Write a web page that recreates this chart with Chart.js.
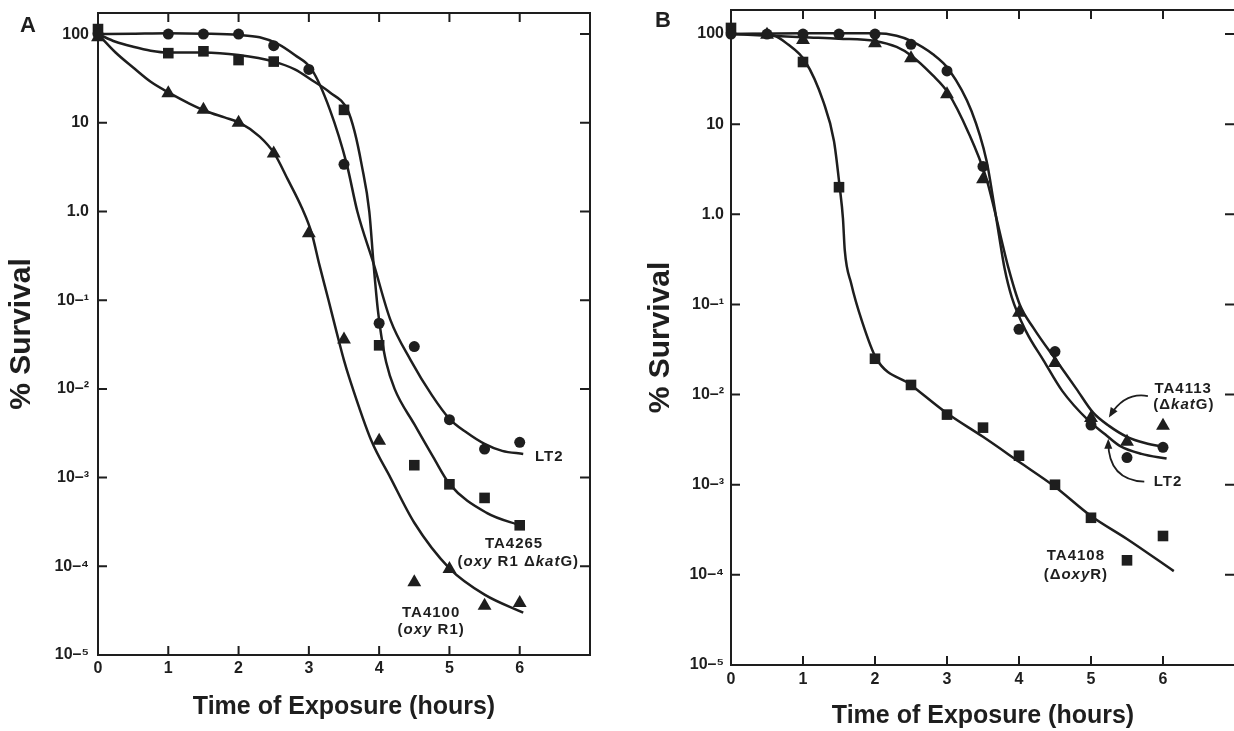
<!DOCTYPE html>
<html>
<head>
<meta charset="utf-8">
<script src="https://cdn.jsdelivr.net/npm/chart.js@4.4.1/dist/chart.umd.min.js"></script>
<style>
  html, body { margin: 0; padding: 0; background: #fff; overflow: hidden; }
  #wrap { position: relative; width: 1234px; height: 731px; overflow: hidden; }
  .panel { position: absolute; top: 0; }
  .letter { position: absolute; font: bold 22px 'Liberation Sans', Arial, sans-serif; color: #1e1e1e; line-height: 22px; }
</style>
</head>
<body>
<div id="wrap">
  <canvas id="chartA" class="panel" width="617" height="731" style="left:0"></canvas>
  <canvas id="chartB" class="panel" width="620" height="731" style="left:617px"></canvas>
  <div class="letter" style="left:20px;top:14px">A</div>
  <div class="letter" style="left:655px;top:9px">B</div>
</div>
<script>
const ink = "#1e1e1e";
const family = "'Liberation Sans', Arial, Helvetica, sans-serif";

// axis ticks
const xTickLabels = ["0", "1", "2", "3", "4", "5", "6", ""];
const yTickValues = [1e-5, 1e-4, 1e-3, 1e-2, 1e-1, 1, 10, 100];
const yTickLabels = ["10–⁵", "10–⁴", "10–³", "10–²", "10–¹", "1.0", "10", "100"];

// ---- panel A : measured points (hours, % survival)
const lt2A_t = [0, 1, 1.5, 2, 2.5, 3, 3.5, 4, 4.5, 5, 5.5, 6];
const lt2A_v = [100, 100, 100, 100, 74, 40, 3.4, 0.055, 0.03, 0.0045, 0.0021, 0.0025];
const ta4265_t = [0, 1, 1.5, 2, 2.5, 3.5, 4, 4.5, 5, 5.5, 6];
const ta4265_v = [114, 61, 64, 51, 49, 14, 0.031, 0.00138, 0.00084, 0.00059, 0.00029];
const ta4100_t = [0, 1, 1.5, 2, 2.5, 3, 3.5, 4, 4.5, 5, 5.5, 6];
const ta4100_v = [92, 21.6, 14, 10, 4.5, 0.57, 0.036, 0.0026, 0.000066, 0.000093, 0.000036, 0.0000385];

// panel A : hand-drawn fitted curves
const lt2A_fit_t = [0, 0.5, 1, 1.5, 2, 2.3, 2.55, 2.8, 3.04, 3.3, 3.54, 3.69, 3.92, 4.16, 4.45, 4.75, 5, 5.25, 5.5, 5.75, 6.05];
const lt2A_fit_v = [100, 101, 102, 101, 98, 92, 78, 58, 40, 14, 3.4, 1.0, 0.26, 0.06, 0.021, 0.0085, 0.0046, 0.0032, 0.0024, 0.002, 0.00185];
const ta4265_fit_t = [0, 0.25, 0.5, 0.75, 1, 1.5, 2, 2.5, 2.8, 3.05, 3.3, 3.55, 3.65, 3.75, 3.86, 3.92, 3.98, 4.03, 4.1, 4.22, 4.5, 4.77, 5, 5.53, 6.03];
const ta4265_fit_v = [100, 82, 72, 65, 62, 62, 58, 49, 40, 30, 22, 14, 8, 3.4, 1.0, 0.26, 0.08, 0.04, 0.02, 0.01, 0.004, 0.0017, 0.00085, 0.0004, 0.000285];
const ta4100_fit_t = [0, 0.25, 0.5, 0.75, 1.02, 1.3, 1.54, 1.8, 2.02, 2.3, 2.51, 2.7, 2.9, 3.04, 3.15, 3.28, 3.4, 3.5, 3.58, 3.89, 4.16, 4.5, 5, 5.5, 6.05];
const ta4100_fit_v = [100, 62, 42, 29, 21.6, 16.5, 13.5, 11.5, 10, 7, 4.5, 2.3, 1.1, 0.57, 0.25, 0.1, 0.042, 0.021, 0.013, 0.0026, 0.001, 0.00031, 0.000095, 0.000048, 0.00003];

// ---- panel B : measured points
const lt2B_t = [0, 0.5, 1, 1.5, 2, 2.5, 3, 3.5, 4, 4.5, 5, 5.5, 6];
const lt2B_v = [100, 100, 100, 100, 100, 77, 39, 3.4, 0.053, 0.03, 0.0046, 0.002, 0.0026];
const ta4113_t = [0.5, 1, 2, 2.5, 3, 3.5, 4, 4.5, 5, 5.5, 6];
const ta4113_v = [98, 86, 79, 54, 21.5, 2.45, 0.081, 0.0224, 0.0055, 0.003, 0.0045];
const ta4108_t = [0, 1, 1.5, 2, 2.5, 3, 3.5, 4, 4.5, 5, 5.5, 6];
const ta4108_v = [117, 49, 2.0, 0.025, 0.0128, 0.006, 0.0043, 0.0021, 0.001, 0.00043, 0.000145, 0.00027];

// panel B : fitted curves
const lt2B_fit_t = [0, 1, 2, 2.3, 2.5, 2.8, 3.03, 3.34, 3.55, 3.64, 3.72, 3.8, 3.9, 4.1, 4.34, 4.6, 4.96, 5.2, 5.4, 5.7, 6.05];
const lt2B_fit_v = [100, 102, 102, 96, 84, 60, 40, 14, 3.9, 1.5, 0.6, 0.25, 0.12, 0.05, 0.024, 0.011, 0.0052, 0.0036, 0.0027, 0.0022, 0.00195];
const ta4113_fit_t = [0, 0.5, 1, 1.5, 2, 2.3, 2.5, 2.8, 3.02, 3.3, 3.54, 3.65, 3.75, 3.85, 4.01, 4.2, 4.55, 4.8, 5.03, 5.25, 5.5, 5.75, 6.05];
const ta4113_fit_v = [100, 96, 92, 89, 84, 72, 58, 35, 22, 8, 2.6, 1.2, 0.55, 0.26, 0.1, 0.055, 0.022, 0.0115, 0.0063, 0.0045, 0.0034, 0.0029, 0.0026];
const ta4108_fit_t = [0, 0.3, 0.58, 0.79, 1.03, 1.28, 1.43, 1.51, 1.555, 1.58, 1.67, 1.82, 2.02, 2.5, 3, 3.5, 4, 4.5, 5, 5.5, 6.15];
const ta4108_fit_v = [100, 100, 97, 77, 50, 18, 6.5, 2.0, 0.9, 0.4, 0.17, 0.065, 0.025, 0.0128, 0.0062, 0.0034, 0.0018, 0.00095, 0.00045, 0.00025, 0.00011];

// strain labels, placed in data coordinates [hours, % survival]
const notesA = [
  { t: 6.42, v: 1.7e-3, parts: [["LT2", false]] },
  { t: 5.92, v: 1.79e-4, parts: [["TA4265", false]] },
  { t: 5.98, v: 1.13e-4, parts: [["(", false], ["oxy", true], [" R1 Δ", false], ["kat", true], ["G)", false]] },
  { t: 4.74, v: 2.98e-5, parts: [["TA4100", false]] },
  { t: 4.74, v: 1.91e-5, parts: [["(", false], ["oxy", true], [" R1)", false]] }
];
const notesB = [
  { t: 6.28, v: 1.17e-2, parts: [["TA4113", false]] },
  { t: 6.29, v: 7.65e-3, parts: [["(Δ", false], ["kat", true], ["G)", false]] },
  { t: 6.07, v: 1.08e-3, parts: [["LT2", false]] },
  { t: 4.79, v: 1.62e-4, parts: [["TA4108", false]] },
  { t: 4.79, v: 9.95e-5, parts: [["(Δ", false], ["oxy", true], ["R)", false]] }
];
// curved pointer arrows: start, control, end
const arrowsB = [
  [[5.79, 9.64e-3], [5.47, 1.07e-2], [5.27, 5.93e-3]],
  [[5.74, 1.08e-3], [5.24, 1.13e-3], [5.24, 3.0e-3]]
];

function pts(xs, ys) {
  return xs.map(function (t, i) { return { x: t, y: ys[i] }; });
}

function markers(label, xs, ys, style, radius) {
  return {
    label: label,
    data: pts(xs, ys),
    pointStyle: style,
    pointRadius: radius,
    pointHoverRadius: radius,
    backgroundColor: ink,
    borderColor: ink,
    borderWidth: 0,
    showLine: false,
    clip: false
  };
}

function fitLine(label, xs, ys) {
  return {
    label: label,
    data: pts(xs, ys),
    showLine: true,
    pointRadius: 0,
    pointHoverRadius: 0,
    borderColor: ink,
    borderWidth: 2.5,
    cubicInterpolationMode: "monotone",
    clip: false
  };
}

// box round the plot with inward tick marks
const frameTicks = {
  id: "frameTicks",
  beforeDatasetsDraw: function (chart) {
    const ctx = chart.ctx;
    const a = chart.chartArea;
    const x = chart.scales.x;
    const y = chart.scales.y;
    ctx.save();
    ctx.strokeStyle = ink;
    ctx.lineWidth = 2;
    ctx.strokeRect(a.left, a.top, a.right - a.left, a.bottom - a.top);
    ctx.beginPath();
    x.ticks.forEach(function (t) {
      if (t.value <= x.min || t.value >= x.max) return;
      const px = x.getPixelForValue(t.value);
      ctx.moveTo(px, a.bottom); ctx.lineTo(px, a.bottom - 9);
      ctx.moveTo(px, a.top); ctx.lineTo(px, a.top + 9);
    });
    y.ticks.forEach(function (t) {
      const py = y.getPixelForValue(t.value);
      if (py >= a.bottom - 1) return;
      ctx.moveTo(a.left, py); ctx.lineTo(a.left + 9, py);
      ctx.moveTo(a.right, py); ctx.lineTo(a.right - 10, py);
    });
    ctx.stroke();
    ctx.restore();
  }
};

function notesPlugin(notes, arrows) {
  return {
    id: "notes",
    afterDatasetsDraw: function (chart) {
      const ctx = chart.ctx;
      const x = chart.scales.x;
      const y = chart.scales.y;
      ctx.save();
      ctx.fillStyle = ink;
      ctx.strokeStyle = ink;
      ctx.textBaseline = "middle";
      ctx.textAlign = "left";
      ctx.letterSpacing = "1px";
      notes.forEach(function (n) {
        let total = 0;
        n.parts.forEach(function (p) {
          ctx.font = (p[1] ? "italic " : "") + "bold 15px " + family;
          total += ctx.measureText(p[0]).width;
        });
        let cx = x.getPixelForValue(n.t) - total / 2;
        const cy = y.getPixelForValue(n.v);
        n.parts.forEach(function (p) {
          ctx.font = (p[1] ? "italic " : "") + "bold 15px " + family;
          ctx.fillText(p[0], cx, cy);
          cx += ctx.measureText(p[0]).width;
        });
      });
      ctx.lineWidth = 1.8;
      arrows.forEach(function (ar) {
        const p0 = [x.getPixelForValue(ar[0][0]), y.getPixelForValue(ar[0][1])];
        const c = [x.getPixelForValue(ar[1][0]), y.getPixelForValue(ar[1][1])];
        const p1 = [x.getPixelForValue(ar[2][0]), y.getPixelForValue(ar[2][1])];
        ctx.beginPath();
        ctx.moveTo(p0[0], p0[1]);
        ctx.quadraticCurveTo(c[0], c[1], p1[0], p1[1]);
        ctx.stroke();
        const ang = Math.atan2(p1[1] - c[1], p1[0] - c[0]);
        ctx.beginPath();
        ctx.moveTo(p1[0] + Math.cos(ang) * 3, p1[1] + Math.sin(ang) * 3);
        ctx.lineTo(p1[0] - Math.cos(ang) * 7 - Math.sin(ang) * 4, p1[1] - Math.sin(ang) * 7 + Math.cos(ang) * 4);
        ctx.lineTo(p1[0] - Math.cos(ang) * 7 + Math.sin(ang) * 4, p1[1] - Math.sin(ang) * 7 - Math.cos(ang) * 4);
        ctx.closePath();
        ctx.fill();
      });
      ctx.restore();
    }
  };
}

function makeChart(id, datasets, cfg) {
  return new Chart(document.getElementById(id), {
    type: "scatter",
    data: { datasets: datasets },
    options: {
      responsive: false,
      animation: false,
      devicePixelRatio: 1,
      layout: { autoPadding: false, padding: { top: cfg.top, right: cfg.right, bottom: 0, left: 0 } },
      plugins: { legend: { display: false }, tooltip: { enabled: false } },
      scales: {
        x: {
          type: "linear",
          min: 0,
          max: 7,
          afterFit: function (s) { s.height = cfg.xHeight; s.paddingLeft = 0; s.paddingRight = 0; },
          grid: { display: false, drawTicks: false },
          border: { display: false },
          ticks: {
            stepSize: 1,
            autoSkip: false,
            maxRotation: 0,
            padding: cfg.xPad,
            color: ink,
            font: { family: family, size: 16, weight: "bold" },
            callback: function (v) { return xTickLabels[Math.round(v)]; }
          },
          title: {
            display: true,
            text: "Time of Exposure (hours)",
            color: ink,
            font: { family: family, size: 25, weight: "bold" },
            padding: { top: 0, bottom: cfg.xTitlePad }
          }
        },
        y: {
          type: "logarithmic",
          min: 1e-5,
          max: cfg.yMax,
          afterBuildTicks: function (s) { s.ticks = yTickValues.map(function (v) { return { value: v }; }); },
          afterFit: function (s) { s.width = cfg.yWidth; s.paddingTop = 0; s.paddingBottom = 0; },
          grid: { display: false, drawTicks: false },
          border: { display: false },
          ticks: {
            autoSkip: false,
            padding: cfg.yPad,
            color: ink,
            font: { family: family, size: 16, weight: "bold" },
            callback: function (v, i) { return yTickLabels[i]; }
          },
          title: {
            display: true,
            text: "% Survival",
            color: ink,
            font: { family: family, size: 30, weight: "bold" },
            padding: { top: cfg.yTitlePad, bottom: 0 }
          }
        }
      }
    },
    plugins: [frameTicks, notesPlugin(cfg.notes, cfg.arrows)]
  });
}

makeChart("chartA", [
  markers("LT2", lt2A_t, lt2A_v, "circle", 5.5),
  markers("TA4265", ta4265_t, ta4265_v, "rect", 7.5),
  markers("TA4100", ta4100_t, ta4100_v, "triangle", 8),
  fitLine("LT2 fit", lt2A_fit_t, lt2A_fit_v),
  fitLine("TA4265 fit", ta4265_fit_t, ta4265_fit_v),
  fitLine("TA4100 fit", ta4100_fit_t, ta4100_fit_v)
], { top: 13, right: 27, xHeight: 76, yWidth: 98, yMax: 173, xPad: 4, yPad: 9, xTitlePad: 9, yTitlePad: 4, notes: notesA, arrows: [] });

makeChart("chartB", [
  markers("LT2", lt2B_t, lt2B_v, "circle", 5.5),
  markers("TA4113", ta4113_t, ta4113_v, "triangle", 8),
  markers("TA4108", ta4108_t, ta4108_v, "rect", 7.5),
  fitLine("LT2 fit", lt2B_fit_t, lt2B_fit_v),
  fitLine("TA4113 fit", ta4113_fit_t, ta4113_fit_v),
  fitLine("TA4108 fit", ta4108_fit_t, ta4108_fit_v)
], { top: 10, right: 2, xHeight: 66, yWidth: 114, yMax: 185, xPad: 5, yPad: 7, xTitlePad: 0, yTitlePad: 26, notes: notesB, arrows: arrowsB });
</script>
</body>
</html>
